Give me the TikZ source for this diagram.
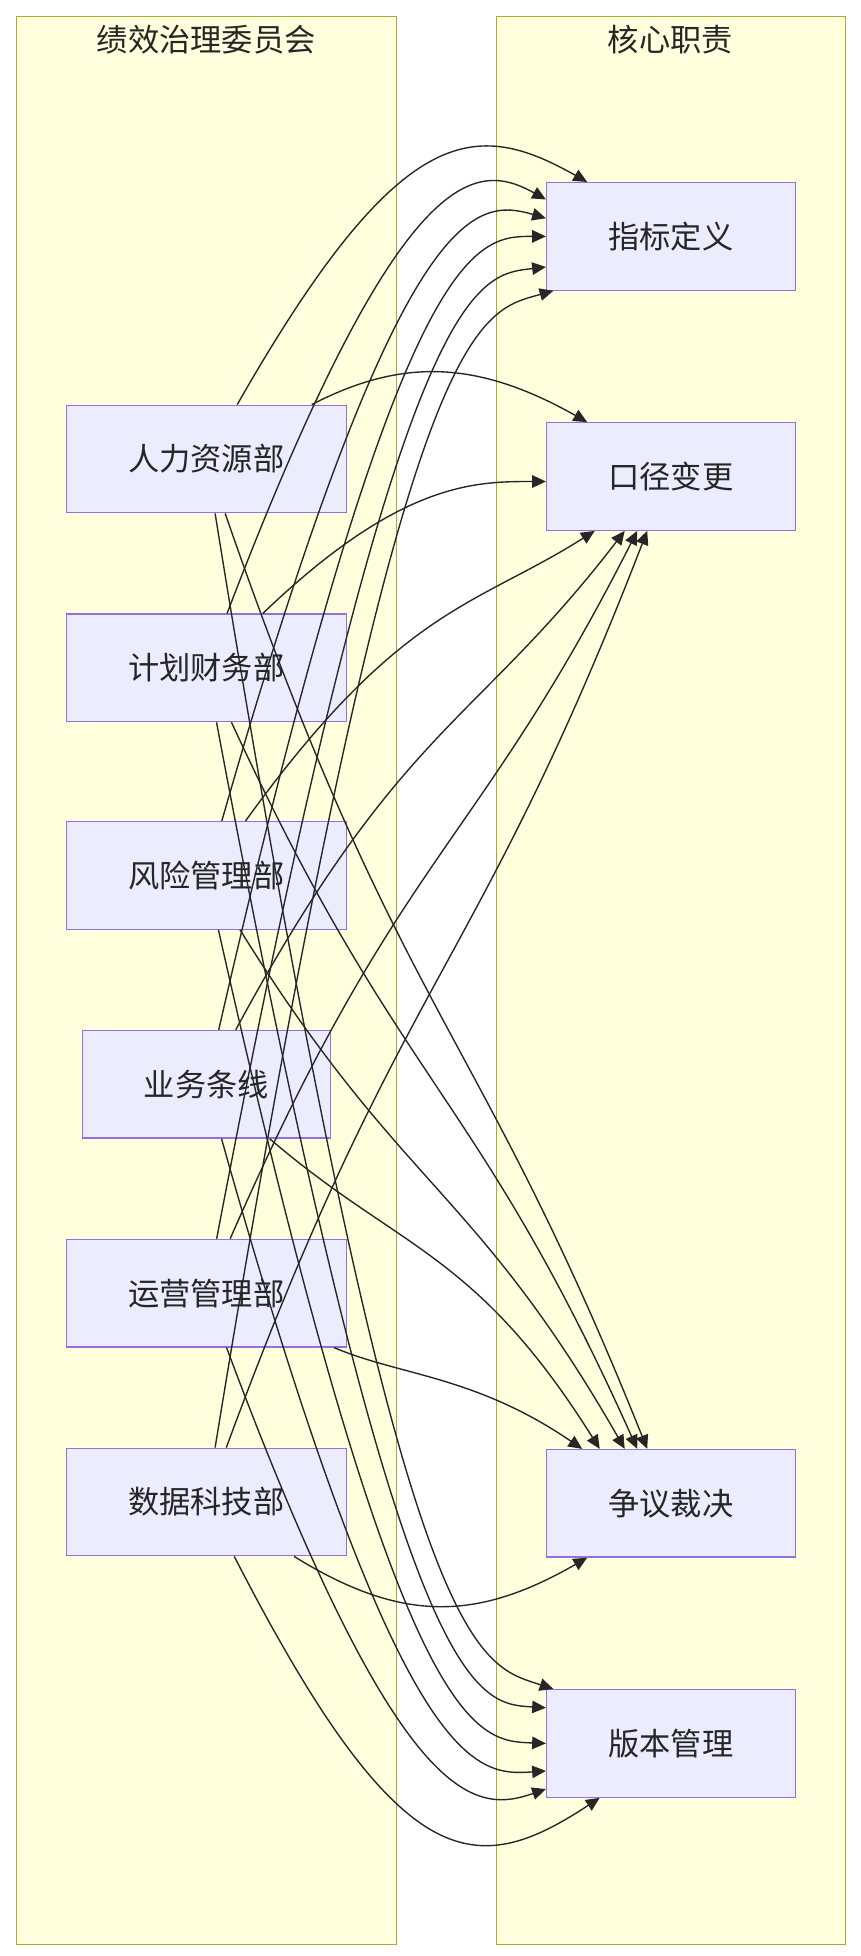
\documentclass[tikz,border=0pt]{standalone}
\usepackage{fontspec}
\setmainfont{Noto Sans CJK SC}
\usetikzlibrary{arrows.meta,calc}
\definecolor{mpurple}{HTML}{9370DB}
\definecolor{clusfill}{HTML}{FFFFDE}
\definecolor{clusline}{HTML}{AAAA33}
\definecolor{boxfill}{HTML}{ECECFF}
\begin{document}
\begin{tikzpicture}[x=1pt,y=-1pt,
  clus/.style={draw=clusline,fill=clusfill,line width=0.9pt},
  box/.style={draw=mpurple,fill=boxfill,line width=1pt,minimum height=86pt,font=\fontsize{25}{28}\selectfont,text=black!85},
  ttl/.style={font=\fontsize{25}{28}\selectfont,text=black!85},
  arr/.style={draw=black!85,line width=1.1pt,-{Triangle[length=11pt,width=10pt]}}]
\useasboundingbox (0,0) rectangle (688,1564);
\fill[white] (0,0) rectangle (688,1564);
\draw[clus] (13,13) rectangle (317,1555);
\draw[clus] (397,13) rectangle (676,1555);
\node[ttl] (t1) at (165,32) {绩效治理委员会};
\node[ttl] (t2) at (536,32) {核心职责};
\node[box,minimum width=224pt] (hr) at (165,367) {人力资源部};
\node[box,minimum width=224pt] (jh) at (165,534) {计划财务部};
\node[box,minimum width=224pt] (fx) at (165,700) {风险管理部};
\node[box,minimum width=198pt] (yw) at (165,867) {业务条线};
\node[box,minimum width=224pt] (yy) at (165,1034) {运营管理部};
\node[box,minimum width=224pt] (sj) at (165,1201) {数据科技部};
\node[box,minimum width=199pt] (zb) at (536.5,189) {指标定义};
\node[box,minimum width=199pt] (kj) at (536.5,381) {口径变更};
\node[box,minimum width=199pt] (zy) at (536.5,1202) {争议裁决};
\node[box,minimum width=199pt] (bb) at (536.5,1394) {版本管理};
% start / cy / end anchor / dx / dy
\foreach \s/\cy/\e/\dx/\dy in {
 hr/95/zb.north west/33/0,
 jh/128/zb.north west/0/14,
 fx/158/zb.north west/0/29,
 yw/189/zb.west/0/0,
 yy/220/zb.south west/0/-19,
 sj/250/zb.south west/6/0,
 hr/287/kj.north west/33/0,
 jh/385/kj.west/0/4,
 fx/485/kj.south west/39/0,
 yw/580/kj.south west/63/0,
 yy/680/kj.south west/73/0,
 sj/780/kj.south west/81/0,
 hr/815/zy.north west/81/0,
 jh/870/zy.north west/73/0,
 fx/950/zy.north west/63/0,
 yw/1000/zy.north west/43/0,
 yy/1100/zy.north west/29/0,
 sj/1297/zy.south west/33/0,
 hr/1330/bb.north west/6/0,
 jh/1362/bb.north west/0/15,
 fx/1392/bb.west/0/0,
 yw/1420/bb.west/0/22,
 yy/1450/bb.south west/0/-7,
 sj/1503/bb.south west/43/0}
 \draw[arr] (\s) .. controls (320,\cy) and (380,\cy) .. ($(\e)+(\dx,\dy)$);
\end{tikzpicture}
\end{document}
